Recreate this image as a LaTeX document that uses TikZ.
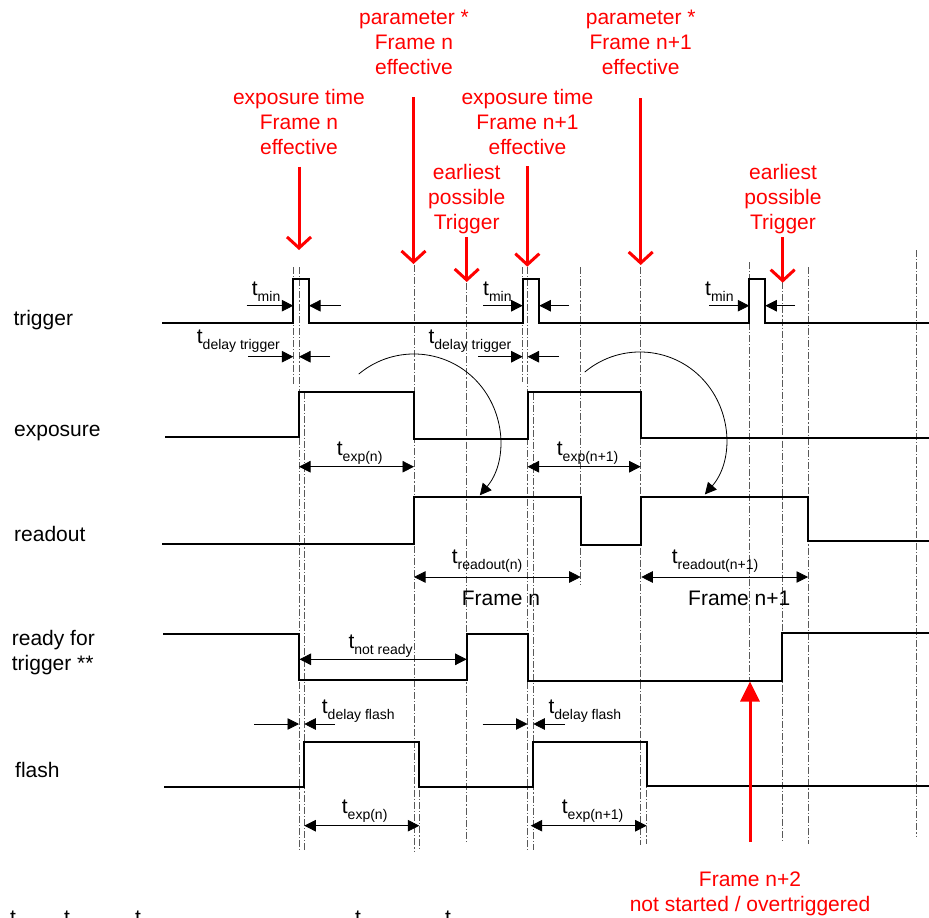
\documentclass[tikz,border=0pt]{standalone}
\usepackage{fontspec}
\setmainfont{Liberation Sans}
\usetikzlibrary{arrows.meta}
\newcommand{\tsb}[1]{t\raisebox{-6pt}{\fontsize{14}{16}\selectfont #1}}
\begin{document}
\begin{tikzpicture}[x=1pt,y=-1pt,
  sig/.style={line width=2pt, line join=miter},
  guide/.style={line width=0.7pt, black!65, dash pattern=on 7pt off 2pt on 1.2pt off 2pt},
  dim/.style={line width=0.8pt, -{Triangle[length=11.5pt,width=11.5pt]}},
  dimboth/.style={line width=0.8pt, {Triangle[length=11.5pt,width=11.5pt]}-{Triangle[length=11.5pt,width=11.5pt]}},
  curv/.style={line width=0.8pt, -{Triangle[length=11.5pt,width=11.5pt]}},
  lab/.style={font=\fontsize{21}{25}\selectfont, inner sep=0pt, anchor=base west},
  redtxt/.style={text=red, font=\fontsize{21}{25}\selectfont, align=center, inner sep=0pt, anchor=north},
  redarrow/.style={red, line width=3pt, -{Straight Barb[length=11pt,width=24pt]}},
  redup/.style={red, line width=3pt, -{Triangle[length=20pt,width=19pt]}}
]
\useasboundingbox (0,0) rectangle (929,918);
\fill[white] (0,0) rectangle (929,918);

% guide lines
\draw[guide] (293.3,267) -- (293.3,385);
\draw[guide] (299,267) -- (299,850);
\draw[guide] (304.3,392) -- (304.3,850);
\draw[guide] (414,265) -- (414,852);
\draw[guide] (419.3,741) -- (419.3,850);
\draw[guide] (466.7,283) -- (466.7,844);
\draw[guide] (522.7,267) -- (522.7,382);
\draw[guide] (527.5,267) -- (527.5,850);
\draw[guide] (533.3,393) -- (533.3,850);
\draw[guide] (580.7,267) -- (580.7,585);
\draw[guide] (640.7,267) -- (640.7,845);
\draw[guide] (646.2,741) -- (646.2,844);
\draw[guide] (749.7,262) -- (749.7,681);
\draw[guide] (782.7,282) -- (782.7,843);
\draw[guide] (808.3,267) -- (808.3,844);
\draw[guide] (916,250) -- (916,836);

% signals
\draw[sig] (162,323) -- (293.3,323) -- (293.3,278.5) -- (309,278.5) -- (309,323) -- (523,323) -- (523,278.5) -- (539.3,278.5) -- (539.3,323) -- (749.3,323) -- (749.3,279.3) -- (765.3,279.3) -- (765.3,323) -- (929,323);
\draw[sig] (165,437.3) -- (299,437.3) -- (299,392.3) -- (414,392.3) -- (414,439.3) -- (527.5,439.3) -- (527.5,392.3) -- (640.7,392.3) -- (640.7,438.3) -- (929,438.3);
\draw[sig] (162,543.7) -- (414.3,543.7) -- (414.3,496.7) -- (580.7,496.7) -- (580.7,544.7) -- (641.3,544.7) -- (641.3,496.7) -- (808,496.7) -- (808,541.3) -- (929,541.3);
\draw[sig] (163,634) -- (299.3,634) -- (299.3,680) -- (466.7,680) -- (466.7,634) -- (527.5,634) -- (527.5,680.7) -- (782,680.7) -- (782,632.7) -- (929,632.7);
\draw[sig] (164,787) -- (304.3,787) -- (304.3,741.7) -- (419.3,741.7) -- (419.3,787) -- (533.3,787) -- (533.3,741.7) -- (646.7,741.7) -- (646.7,786) -- (929,786);

% signal names
\node[lab] (ltrig) at (13.3,325.5) {trigger};
\node[lab] (lexp) at (14,436.5) {exposure};
\node[lab] (lread) at (14,541) {readout};
\node[lab] (lready) at (11.7,645) {ready for};
\node[lab] (lready2) at (11.7,670) {trigger **};
\node[lab] (lflash) at (15,777) {flash};

% dimension arrows
\draw[dim] (246.7,305.7) -- (293.3,305.7);
\draw[dim] (340.7,305.7) -- (309,305.7);
\draw[dim] (248,356.7) -- (293.3,356.7);
\draw[dim] (330,356.7) -- (299,356.7);
\draw[dim] (483,305.7) -- (522.7,305.7);
\draw[dim] (569,305.7) -- (539.3,305.7);
\draw[dim] (478,356.7) -- (522.7,356.7);
\draw[dim] (559,356.7) -- (527.5,356.7);
\draw[dim] (709,305.7) -- (749.3,305.7);
\draw[dim] (795,305.7) -- (765.3,305.7);
\draw[dimboth] (299,466.7) -- (414,466.7);
\draw[dimboth] (527.5,466.7) -- (640.7,466.7);
\draw[dimboth] (414,577) -- (580.7,577);
\draw[dimboth] (641.3,577) -- (808,577);
\draw[dimboth] (299.5,659.3) -- (466.7,659.3);
\draw[dim] (254,724) -- (299,724);
\draw[dim] (335,724) -- (304.3,724);
\draw[dim] (482.7,724) -- (527.5,724);
\draw[dim] (565,724) -- (533.3,724);
\draw[dimboth] (304.3,825.7) -- (419.3,825.7);
\draw[dimboth] (530.7,825.7) -- (646.7,825.7);

% dimension labels
\node[lab] (tmin1) at (251.7,295) {\tsb{min}};
\node[lab] (tdel1) at (196.7,343) {\tsb{delay trigger}};
\node[lab] (tmin2) at (483,295) {\tsb{min}};
\node[lab] (tdel2) at (428.3,343) {\tsb{delay trigger}};
\node[lab] (tmin3) at (705,295) {\tsb{min}};
\node[lab] (texp1) at (336.7,455) {\tsb{exp(n)}};
\node[lab] (texp2) at (556.7,455) {\tsb{exp(n+1)}};
\node[lab] (trd1) at (451.7,563) {\tsb{readout(n)}};
\node[lab] (trd2) at (671.7,563) {\tsb{readout(n+1)}};
\node[lab] (tnr) at (348.3,648) {\tsb{not ready}};
\node[lab] (tdf1) at (321.7,713) {\tsb{delay flash}};
\node[lab] (tdf2) at (548.3,713) {\tsb{delay flash}};
\node[lab] (tfe1) at (341.7,813) {\tsb{exp(n)}};
\node[lab] (tfe2) at (561.7,813) {\tsb{exp(n+1)}};
\node[lab] (frn) at (461.7,605) {Frame n};
\node[lab] (frn1) at (688,605) {Frame n+1};

% curved arrows
\draw[curv] (358.7,374.1) arc[start angle=-130, end angle=40, radius=86];
\draw[curv] (584.7,372.1) arc[start angle=-130, end angle=41, radius=86];

% red annotations
\node[redtxt] (r1) at (299,88) {\rule{0pt}{16pt}exposure time\\Frame n\\effective};
\node[redtxt] (r2) at (414,8) {\rule{0pt}{16pt}parameter *\\Frame n\\effective};
\node[redtxt] (r3) at (466.7,163) {\rule{0pt}{16pt}earliest\\possible\\Trigger};
\node[redtxt] (r4) at (527.5,88) {\rule{0pt}{16pt}exposure time\\Frame n+1\\effective};
\node[redtxt] (r5) at (640.7,8) {\rule{0pt}{16pt}parameter *\\Frame n+1\\effective};
\node[redtxt] (r6) at (783,163) {\rule{0pt}{16pt}earliest\\possible\\Trigger};
\node[redtxt] (r7) at (750,870.7) {\rule{0pt}{16pt}Frame n+2\\not started / overtriggered};
\coordinate (a1) at (299,250);
\coordinate (a2) at (413.5,264);
\coordinate (a3) at (466.7,282);
\coordinate (a4) at (527.3,266.7);
\coordinate (a5) at (640.7,265);
\coordinate (a6) at (782.7,282.7);
\coordinate (a7) at (750,681.5);
\draw[redarrow] (299,166.7) -- (a1);
\draw[redarrow] (413.5,97) -- (a2);
\draw[redarrow] (466.7,237) -- (a3);
\draw[redarrow] (527.3,166) -- (a4);
\draw[redarrow] (640.7,98) -- (a5);
\draw[redarrow] (782.7,237) -- (a6);
\draw[redup] (750,842) -- (a7);

% clipped text fragments at the bottom edge (cut off in the reference too)
\begin{scope}
\clip (0,0) rectangle (929,918);
\node[lab] (c1) at (10,924.5) {t};
\node[lab] (c2) at (64,924.5) {t};
\node[lab] (c3) at (135,924.5) {t};
\node[lab] (c4) at (355,924.5) {t};
\node[lab] (c5) at (445,924.5) {t};
\end{scope}
\end{tikzpicture}
\end{document}
